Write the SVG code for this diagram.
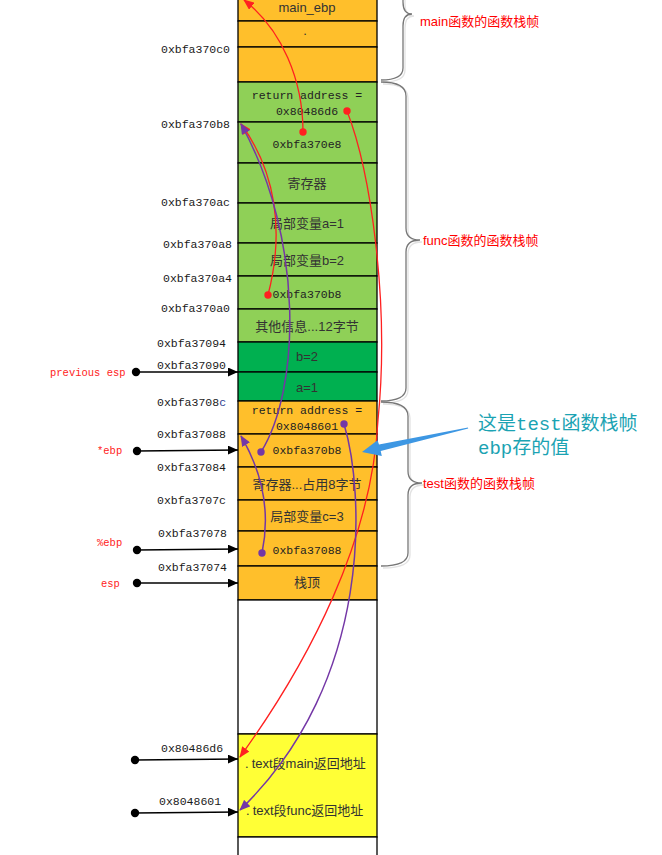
<svg xmlns="http://www.w3.org/2000/svg" width="662" height="855" viewBox="0 0 662 855">
<style>
.cell{stroke:#000;stroke-width:1.3}
.or{fill:#FFBF2B}.gr{fill:#8FD057}.dg{fill:#00B050}.ye{fill:#FFFF36}.wh{fill:#fff}
.t{font-family:"Liberation Sans","Noto Sans CJK SC",sans-serif;font-size:13px;fill:#333;text-anchor:middle}
.m{font-family:"Liberation Mono","Noto Sans CJK SC",monospace;font-size:11.5px;fill:#222;text-anchor:middle}
.tl{font-family:"Liberation Sans","Noto Sans CJK SC",sans-serif;font-size:13px;fill:#333}
.addr{font-family:"Liberation Mono",monospace;font-size:11.5px;fill:#1a1a1a}
.lbl{font-family:"Liberation Mono",monospace;font-size:10.5px;fill:#f22}
.br{fill:none;stroke:#777;stroke-width:1.3}
.brs{fill:none;stroke:#e2e2e2;stroke-width:1.3}
.bl{font-family:"Liberation Sans","Noto Sans CJK SC",sans-serif;font-size:13px;fill:#f00}
.pa{stroke:#000;stroke-width:1.3;fill:none}
.rc{fill:none;stroke:#FF2020;stroke-width:1.3}
.pc{fill:none;stroke:#7437A6;stroke-width:1.5}
.callout{font-family:"Liberation Mono","Noto Sans CJK SC",monospace;font-size:19px;fill:#1BA3B3}
</style>
<defs>
<marker id="ab" markerWidth="10" markerHeight="9" refX="10" refY="4.5" orient="auto" markerUnits="userSpaceOnUse"><path d="M0,0 L10,4.5 L0,9 z" fill="#000"/></marker>
<marker id="ar" markerWidth="11" markerHeight="9" refX="10" refY="4.5" orient="auto" markerUnits="userSpaceOnUse"><path d="M0,0 L11,4.5 L0,9 z" fill="#FF2020"/></marker>
<marker id="ap" markerWidth="11" markerHeight="9" refX="10" refY="4.5" orient="auto" markerUnits="userSpaceOnUse"><path d="M0,0 L11,4.5 L0,9 z" fill="#7437A6"/></marker>
</defs>
<rect width="662" height="855" fill="#fff"/>
<g id="stack">
<g id="c1"><rect class="cell or" x="238" y="-2" width="139" height="23"/><text class="t" x="307" y="11.5">main_ebp</text></g>
<g id="c2"><rect class="cell or" x="238" y="21" width="139" height="26"/><text class="t" x="305" y="34.5">.</text></g>
<g id="c3"><rect class="cell or" x="238" y="47" width="139" height="35"/></g>
<g id="c4"><rect class="cell gr" x="238" y="82" width="139" height="40"/><text class="m" x="307" y="99">return address =</text><text class="m" x="307" y="115">0x80486d6</text></g>
<g id="c5"><rect class="cell gr" x="238" y="122" width="139" height="41"/><text class="m" x="307" y="148">0xbfa370e8</text></g>
<g id="c6"><rect class="cell gr" x="238" y="163" width="139" height="40"/><text class="t" x="307" y="188">寄存器</text></g>
<g id="c7"><rect class="cell gr" x="238" y="203" width="139" height="40"/><text class="t" x="307" y="228">局部变量a=1</text></g>
<g id="c8"><rect class="cell gr" x="238" y="243" width="139" height="33"/><text class="t" x="307" y="264.5">局部变量b=2</text></g>
<g id="c9"><rect class="cell gr" x="238" y="276" width="139" height="33"/><text class="m" x="307" y="297.5">0xbfa370b8</text></g>
<g id="c10"><rect class="cell gr" x="238" y="309" width="139" height="33"/><text class="t" x="307" y="331">其他信息...12字节</text></g>
<g id="c11"><rect class="cell dg" x="238" y="342" width="139" height="30"/><text class="t" x="307" y="360.5">b=2</text></g>
<g id="c12"><rect class="cell dg" x="238" y="372" width="139" height="29"/><text class="t" x="307" y="392">a=1</text></g>
<g id="c13"><rect class="cell or" x="238" y="401" width="139" height="33"/><text class="m" x="307" y="414">return address =</text><text class="m" x="307" y="430">0x8048601</text></g>
<g id="c14"><rect class="cell or" x="238" y="434" width="139" height="33"/><text class="m" x="307" y="454">0xbfa370b8</text></g>
<g id="c15"><rect class="cell or" x="238" y="467" width="139" height="33"/><text class="t" x="307" y="488.5">寄存器...占用8字节</text></g>
<g id="c16"><rect class="cell or" x="238" y="500" width="139" height="31"/><text class="t" x="307" y="521">局部变量c=3</text></g>
<g id="c17"><rect class="cell or" x="238" y="531" width="139" height="35"/><text class="m" x="307" y="554">0xbfa37088</text></g>
<g id="c18"><rect class="cell or" x="238" y="566" width="139" height="34"/><text class="t" x="307" y="587">栈顶</text></g>
<g id="c19"><rect class="cell wh" x="238" y="600" width="139" height="134"/></g>
<g id="c20"><rect class="cell ye" x="238" y="734" width="139" height="103"/><text class="tl" x="245" y="768">.<tspan dx="3">text段main返回地址</tspan></text><text class="tl" x="246" y="814.5">.<tspan dx="3">text段func返回地址</tspan></text></g>
<g id="c21"><rect class="cell wh" x="238" y="837" width="139" height="20"/></g>
</g>
<g id="addresses">
<text class="addr" x="161" y="53">0xbfa370c0</text>
<text class="addr" x="161" y="128">0xbfa370b8</text>
<text class="addr" x="161" y="206">0xbfa370ac</text>
<text class="addr" x="163" y="248">0xbfa370a8</text>
<text class="addr" x="163" y="282">0xbfa370a4</text>
<text class="addr" x="161" y="312">0xbfa370a0</text>
<text class="addr" x="157" y="347">0xbfa37094</text>
<text class="addr" x="157" y="369">0xbfa37090</text>
<text class="addr" x="157" y="406">0xbfa3708<tspan fill="#2B3C8F">c</tspan></text>
<text class="addr" x="157" y="438">0xbfa37088</text>
<text class="addr" x="157" y="471">0xbfa37084</text>
<text class="addr" x="157" y="504">0xbfa3707c</text>
<text class="addr" x="158" y="537">0xbfa37078</text>
<text class="addr" x="158" y="571">0xbfa37074</text>
<text class="addr" x="161" y="752">0x80486d6</text>
<text class="addr" x="159" y="805">0x8048601</text>
</g>
<g id="pointer-labels">
<text class="lbl" x="50" y="376">previous esp</text>
<text class="lbl" x="97" y="454">*ebp</text>
<text class="lbl" x="97" y="546">%ebp</text>
<text class="lbl" x="101" y="587">esp</text>
</g>
<g id="braces">
<path class="brs" d="M383,82 Q405,82 405,70 L405,28 Q405,16 414,16 Q405,16 405,4 L405,-40"/>
<path class="br" d="M381,80 Q403,80 403,68 L403,26 Q403,14 412,14 Q403,14 403,2 L403,-40"/>
<path class="brs" d="M383,84 Q408,84 408,98 L408,230 Q408,242 422,242 Q408,242 408,254 L408,390 Q408,403 383,403"/>
<path class="br" d="M381,82 Q406,82 406,96 L406,228 Q406,240 420,240 Q406,240 406,252 L406,388 Q406,401 381,401"/>
<path class="brs" d="M383,404 Q410,404 410,418 L410,473 Q410,485 424,485 Q410,485 410,497 L410,555 Q410,568 383,568"/>
<path class="br" d="M381,402 Q408,402 408,416 L408,471 Q408,483 422,483 Q408,483 408,495 L408,553 Q408,566 381,566"/>
<text class="bl" x="420" y="25.5">main函数的函数栈帧</text>
<text class="bl" x="423" y="244.5">func函数的函数栈帧</text>
<text class="bl" x="423" y="487.5">test函数的函数栈帧</text>
</g>
<g id="connectors">
<circle cx="136" cy="372" r="4.2" fill="#000"/><path class="pa" d="M136,372 L238,372" marker-end="url(#ab)"/>
<circle cx="137" cy="451" r="4.2" fill="#000"/><path class="pa" d="M137,451 L238,450" marker-end="url(#ab)"/>
<circle cx="137" cy="550" r="4.2" fill="#000"/><path class="pa" d="M137,550 L238,549" marker-end="url(#ab)"/>
<circle cx="137" cy="583" r="4.2" fill="#000"/><path class="pa" d="M137,583 L238,583" marker-end="url(#ab)"/>
<circle cx="135" cy="760" r="4.2" fill="#000"/><path class="pa" d="M135,760 L238,759" marker-end="url(#ab)"/>
<circle cx="135" cy="813" r="4.2" fill="#000"/><path class="pa" d="M135,813 L238,812" marker-end="url(#ab)"/>
<path class="rc" d="M303,132 C303,80 282,30 244,0" marker-end="url(#ar)"/>
<path class="rc" d="M347,111 C370,170 390,300 378,420 C372,540 310,660 240,757" marker-end="url(#ar)"/>
<path class="rc" d="M268,295 C285,230 275,170 241,124" marker-end="url(#ar)"/>
<path class="pc" d="M261,452 C300,390 305,240 241,124" marker-end="url(#ap)"/>
<path class="pc" d="M262,553 C272,505 258,465 241,436" marker-end="url(#ap)"/>
<path class="pc" d="M344,424 C364,490 375,680 240,810" marker-end="url(#ap)"/>
<circle cx="303" cy="132" r="3.7" fill="#FF2020"/>
<circle cx="347" cy="111" r="3.7" fill="#FF2020"/>
<circle cx="268" cy="295" r="3.7" fill="#FF2020"/>
<circle cx="261" cy="452" r="3.7" fill="#7437A6"/>
<circle cx="262" cy="553" r="3.7" fill="#7437A6"/>
<circle cx="344" cy="424" r="3.7" fill="#7437A6"/>
</g>
<g id="callout">
<polygon points="468,427.6 468.2,428.6 380.7,451 381.8,456 362,452 377.5,440.2 379,444.6" fill="#3D97E3"/>
<text class="callout" x="478" y="430">这是test函数栈帧</text>
<text class="callout" x="478" y="453.5">ebp存的值</text>
</g>
</svg>
